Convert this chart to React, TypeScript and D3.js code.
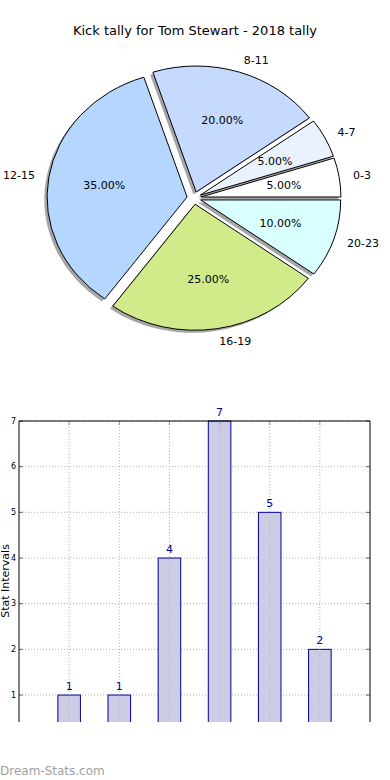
import React, { useEffect } from 'react';
import * as d3 from 'd3';

// tally data
const categories = ['0-3', '4-7', '8-11', '12-15', '16-19', '20-23'];
const counts = [1, 1, 4, 7, 5, 2];
const sliceColors = ['#ffffff', '#eaf2ff', '#c6d9ff', '#b5d6ff', '#d1eb8b', '#d9ffff'];
const yTicks = [1, 2, 3, 4, 5, 6, 7];
const barPositions = [1, 2, 3, 4, 5, 6];

const W = 390;
const H = 780;
const FONT = 'DejaVu Sans, sans-serif';

const App: React.FC = () => {
  useEffect(() => {
    document.body.style.margin = '0';
  }, []);

  // ---------- pie (elliptical, like matplotlib without equal aspect) ----------
  const cx = 194;
  const cy = 198;
  const rx = 140;
  const ry = 126;
  const explode = 0.05;
  const total = d3.sum(counts);
  const cum = d3.cumsum(counts);

  const unitArc = d3.arc<any>().innerRadius(0).outerRadius(1);

  const slices = counts.map((c, i) => {
    const t1 = ((cum[i] - c) / total) * 2 * Math.PI; // ccw from east
    const t2 = (cum[i] / total) * 2 * Math.PI;
    const mid = (t1 + t2) / 2;
    const path = unitArc({ startAngle: Math.PI / 2 - t2, endAngle: Math.PI / 2 - t1 }) as string;
    return {
      i,
      path,
      mid,
      ox: explode * Math.cos(mid),
      oy: -explode * Math.sin(mid),
      pct: ((c / total) * 100).toFixed(2) + '%',
    };
  });

  // ---------- bar chart ----------
  const plot = { left: 19, right: 370, top: 421, clipBottom: 722 };
  const x = d3.scaleLinear().domain([0, 7]).range([plot.left, plot.right]);
  const y = d3.scaleLinear().domain([0, 7]).range([740.7, plot.top]);
  const barW = x(0.45) - x(0);

  return (
    <svg width={W} height={H} style={{ display: 'block', background: '#fff' }} fontFamily={FONT}>
      <defs>
        <clipPath id="plotClip">
          <rect x={plot.left} y={plot.top - 20} width={plot.right - plot.left} height={plot.clipBottom - plot.top + 20} />
        </clipPath>
      </defs>

      <text x={195} y={35} textAnchor="middle" fontSize={13} fill="#000">
        Kick tally for Tom Stewart - 2018 tally
      </text>

      {/* shadows */}
      {slices.map(s => (
        <path
          key={'sh' + s.i}
          d={s.path}
          transform={`translate(${cx + (s.ox - 0.02) * rx},${cy + (s.oy + 0.02) * ry}) scale(${rx},${ry})`}
          fill="#4d4d4d"
          fillOpacity={0.5}
          stroke="none"
        />
      ))}
      {/* wedges */}
      {slices.map(s => (
        <path
          key={'w' + s.i}
          d={s.path}
          transform={`translate(${cx + s.ox * rx},${cy + s.oy * ry}) scale(${rx},${ry})`}
          fill={sliceColors[s.i]}
          stroke="#000"
          strokeWidth={1}
          vectorEffect="non-scaling-stroke"
        />
      ))}
      {/* labels */}
      {slices.map(s => {
        const lx = cx + (s.ox + 1.1 * Math.cos(s.mid)) * rx;
        const ly = cy + (s.oy - 1.1 * Math.sin(s.mid)) * ry;
        const px = cx + (s.ox + 0.6 * Math.cos(s.mid)) * rx;
        const py = cy + (s.oy - 0.6 * Math.sin(s.mid)) * ry;
        return (
          <g key={'l' + s.i} fontSize={11} fill="#000">
            <text x={lx} y={ly} dy="0.35em" textAnchor={Math.cos(s.mid) > 0 ? 'start' : 'end'}>
              {categories[s.i]}
            </text>
            <text x={px} y={py} dy="0.35em" textAnchor="middle">
              {s.pct}
            </text>
          </g>
        );
      })}

      {/* bar chart */}
      <g clipPath="url(#plotClip)">
        {yTicks.map(t => (
          <line key={'gy' + t} x1={plot.left} x2={plot.right} y1={y(t)} y2={y(t)}
            stroke="#b0b0b0" strokeDasharray="1,2" strokeWidth={1} />
        ))}
        {barPositions.map((p, i) => (
          <rect key={'b' + i} x={x(p) - barW / 2} y={y(counts[i])} width={barW} height={y(0) - y(counts[i])}
            fill="#ccccE5" stroke="#000099" strokeWidth={1} />
        ))}
        {barPositions.map(p => (
          <line key={'gx' + p} x1={x(p)} x2={x(p)} y1={plot.top} y2={plot.clipBottom}
            stroke="#b0b0b0" strokeDasharray="1,2" strokeWidth={1} />
        ))}
        {yTicks.map(t => (
          <g key={'ty' + t} stroke="#666">
            <line x1={plot.left} x2={plot.left + 4} y1={y(t)} y2={y(t)} />
            <line x1={plot.right - 4} x2={plot.right} y1={y(t)} y2={y(t)} />
          </g>
        ))}
        {barPositions.map(p => (
          <line key={'tx' + p} x1={x(p)} x2={x(p)} y1={plot.top} y2={plot.top + 4} stroke="#999" />
        ))}
      </g>
      {barPositions.map((p, i) => (
        <text key={'v' + i} x={x(p)} y={y(counts[i]) - 5} textAnchor="middle" fontSize={11} fill="#00008b">
          {counts[i]}
        </text>
      ))}
      {/* spines */}
      <g stroke="#000" strokeWidth={1}>
        <line x1={plot.left} x2={plot.left + 0} y1={plot.top} y2={plot.clipBottom} />
        <line x1={plot.left} x2={plot.right} y1={plot.top} y2={plot.top} />
        <line x1={plot.right} x2={plot.right} y1={plot.top} y2={plot.clipBottom} />
      </g>
      {yTicks.map(t => (
        <text key={'yl' + t} x={plot.left - 3} y={y(t)} dy="0.35em" textAnchor="end" fontSize={8} fill="#000">
          {t}
        </text>
      ))}
      <text transform={`translate(9,${581}) rotate(-90)`} textAnchor="middle" fontSize={11} fill="#000">
        Stat Intervals
      </text>

      <text x={0} y={775} fontSize={12} fill="#a0a0a0">
        Dream-Stats.com
      </text>
    </svg>
  );
};

export default App;
